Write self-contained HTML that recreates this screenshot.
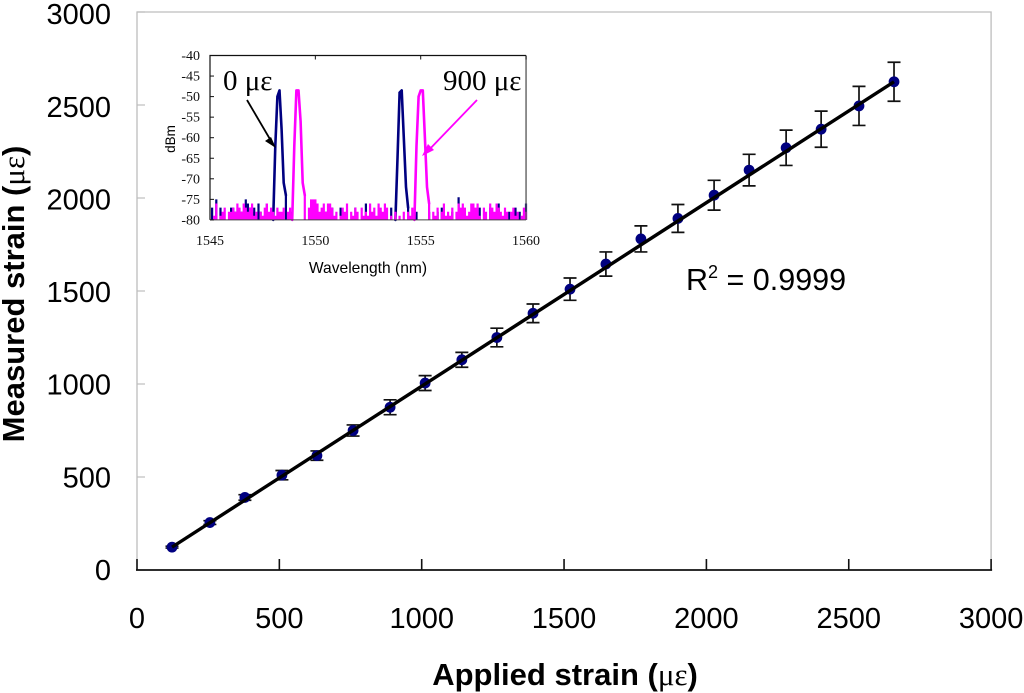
<!DOCTYPE html>
<html lang="en">
<head>
<meta charset="utf-8">
<title>Measured vs applied strain</title>
<style>
html,body{margin:0;padding:0;background:#fff;width:1024px;height:693px;overflow:hidden}
svg{display:block;font-family:"Liberation Sans",sans-serif}
</style>
</head>
<body>
<svg id="chart" xmlns="http://www.w3.org/2000/svg" width="1024" height="693" viewBox="0 0 1024 693">
  <rect x="0" y="0" width="1024" height="693" fill="#fff"/>
  <text transform="translate(24,294) rotate(-90)" text-anchor="middle" font-size="31" font-weight="bold" fill="#000">Measured strain (<tspan font-family="Liberation Serif" font-weight="normal">με</tspan>)</text>
  <text x="565" y="685" text-anchor="middle" font-size="31" font-weight="bold" fill="#000">Applied strain (<tspan font-family="Liberation Serif" font-weight="normal">με</tspan>)</text>
  <text x="686" y="290" font-size="30.5" fill="#000">R<tspan font-size="18" dy="-12">2</tspan><tspan dy="12"> = 0.9999</tspan></text>
  <text transform="translate(175,139) rotate(-90)" text-anchor="middle" font-size="13.5" fill="#000">dBm</text>
  <text x="368" y="273" text-anchor="middle" font-size="15.6" fill="#000">Wavelength (nm)</text>
  <text x="223" y="90" font-family="Liberation Serif" font-size="29" fill="#000">0 με</text>
  <text x="443" y="90" font-family="Liberation Serif" font-size="29" fill="#000">900 με</text>
  <g id="main-axes"></g>
  <g id="main-series"></g>
  <g id="inset"></g>
</svg>
<script>
// ---- main chart data ----
const appliedStrain = [123,256,379,509,632,759,889,1012,1141,1264,1391,1521,1647,1770,1900,2027,2150,2280,2403,2536,2659];
const measuredStrain = [123,255,390,510,615,750,875,1005,1130,1250,1380,1510,1645,1780,1890,2015,2150,2270,2370,2495,2625];
const strainError = [5,10,15,25,25,30,40,40,40,50,50,60,65,70,75,80,85,95,97,105,105];
const trendX = [123,2659];
const trendY = [123,2625];
const mainXTicks = [0,500,1000,1500,2000,2500,3000];
const mainYTicks = [0,500,1000,1500,2000,2500,3000];

// ---- inset data (dBm sampled every 0.1 nm from 1545 nm) ----
const spectrumStart = 1545;
const spectrumStep = 0.1;
const spectrum0 = [
-80,-77,-80,-75,-80,-77,-80,-80,-80,-80,
-77,-77,-78,-80,-79,-78,-80,-75,-76,-77,
-78,-77,-80,-76,-78,-80,-79,-76,-80,-80,
-80,-62,-50,-48.5,-58,-71,-74,-80,-80,-78,
-80,-80,-80,-80,-80,-80,-80,-80,-80,-78,
-80,-80,-80,-80,-80,-78,-80,-80,-77,-80,
-80,-80,-77,-80,-80,-80,-80,-80,-80,-77,
-80,-80,-80,-80,-76,-80,-80,-80,-80,-80,
-80,-78,-80,-80,-80,-80,-77,-80,-80,-65,
-49,-48.5,-60,-72,-77,-80,-80,-80,-78,-80,
-80,-80,-80,-80,-78,-80,-80,-80,-78,-80,
-77,-80,-80,-80,-80,-78,-80,-80,-74.5,-78,
-80,-80,-80,-79,-80,-80,-80,-80,-77,-80,
-80,-80,-80,-77,-80,-80,-80,-76,-80,-80,
-80,-80,-78,-80,-80,-77,-80,-78,-80,-80,-76
];
const spectrum900 = [
-80,-80,-79,-76,-80,-79,-78,-77,-80,-78,
-78,-77,-78,-76,-77,-78,-76,-77,-78,-77,
-76,-79,-78,-80,-78,-79,-77,-76,-78,-77,
-78,-79,-77,-78,-78,-77,-80,-78,-77,-80,
-62,-48.5,-48.5,-56,-71,-74,-80,-77,-75,-75,
-75,-76,-78,-77,-76,-78,-76,-76,-77,-79,
-78,-80,-79,-77,-78,-76,-80,-78,-79,-77,
-78,-80,-77,-79,-78,-79,-76,-78,-77,-79,
-76,-77,-78,-76,-77,-80,-79,-80,-78,-80,
-79,-80,-78,-80,-78,-79,-77,-80,-62,-50,
-48.5,-48.5,-60,-72,-76,-80,-78,-79,-77,-80,
-78,-76,-79,-78,-79,-77,-80,-78,-76,-77,
-76,-77,-79,-78,-76,-76,-77,-76,-79,-80,
-77,-78,-80,-76,-77,-78,-76,-77,-78,-79,
-77,-78,-80,-78,-77,-79,-78,-80,-79,-77,-78
];
const insetXTicks = [1545,1550,1555,1560];
const insetYTicks = [-40,-45,-50,-55,-60,-65,-70,-75,-80];

// ---- axis functions ----
const xMain = v => 137 + v * 0.2847;
const yMain = v => 570 - v * 0.186;
const yMainLabel = v => 570 - v * 0.1853;
const xInset = v => 210 + (v - 1545) * 21.07;
const yInset = v => 55.5 + (-40 - v) * 4.11;

const NS = 'http://www.w3.org/2000/svg';
function make(parent, tag, attrs, text) {
  const el = document.createElementNS(NS, tag);
  for (const k in attrs) el.setAttribute(k, attrs[k]);
  if (text !== undefined) el.textContent = text;
  parent.appendChild(el);
  return el;
}
let el;
const mainAxes = document.getElementById('main-axes');
const mainSeries = document.getElementById('main-series');
const inset = document.getElementById('inset');

// main plot frame
el = make(mainAxes, 'path', {d:`M${xMain(0)} ${yMain(0)}V${yMain(3000)}H${xMain(3000)}V${yMain(0)}`, fill:'none', stroke:'#bdbdbd', 'stroke-width':1.3});



mainYTicks.forEach(t => {
  el = make(mainAxes, 'line', {x1:xMain(0), x2:xMain(0)+8, y1:yMain(t), y2:yMain(t), stroke:'#bdbdbd', 'stroke-width':1.2});
  
  
  el = make(mainAxes, 'text', {x:111, y:yMainLabel(t)+10, 'text-anchor':'end', 'font-size':29, fill:'#000'}, t);
  
  
});
el = make(mainAxes, 'line', {x1:xMain(0)-1, x2:xMain(3000)+1, y1:yMain(0), y2:yMain(0), stroke:'#111', 'stroke-width':1.8});


mainXTicks.forEach(t => {
  el = make(mainAxes, 'line', {x1:xMain(t), x2:xMain(t), y1:yMain(0), y2:yMain(0)-11, stroke:'#111', 'stroke-width':1.6});
  
  
  el = make(mainAxes, 'text', {x:xMain(t), y:628, 'text-anchor':'middle', 'font-size':29, fill:'#000'}, t);
  
  
});

// error bars
appliedStrain.forEach((x, i) => {
  const px = xMain(x), top = yMain(measuredStrain[i] + strainError[i]), bot = yMain(measuredStrain[i] - strainError[i]);
  el = make(mainSeries, 'path', {d:`M${px-6.5} ${top}H${px+6.5}M${px} ${top}V${bot}M${px-6.5} ${bot}H${px+6.5}`, fill:'none', stroke:'#111', 'stroke-width':1.7});
  
  
});
// points
appliedStrain.forEach((x, i) => {
  el = make(mainSeries, 'circle', {cx:xMain(x), cy:yMain(measuredStrain[i]), r:5.4, fill:'#000080'});
  
  
});
// trend line
el = make(mainSeries, 'line', {x1:xMain(trendX[0]), y1:yMain(trendY[0]), x2:xMain(trendX[1]), y2:yMain(trendY[1]), stroke:'#000', 'stroke-width':3.4});



// inset traces: noise floor as solid columns, peaks as stroked outlines
function sampleX(i) {
  return xInset(spectrumStart + i * spectrumStep).toFixed(1);
}
function noisePath(values) {
  return values.map((v, i) => v <= -74 ? `M${sampleX(i)} ${yInset(-80).toFixed(1)}V${yInset(v).toFixed(1)}` : '').join('');
}
function peakPath(values) {
  let d = '';
  for (let i = 0; i < values.length - 1; i++) {
    if (Math.max(values[i], values[i + 1]) > -74) {
      d += `M${sampleX(i)} ${yInset(values[i]).toFixed(1)}L${sampleX(i + 1)} ${yInset(values[i + 1]).toFixed(1)}`;
    }
  }
  return d;
}
el = make(inset, 'path', {d:noisePath(spectrum0), fill:'none', stroke:'#000080', 'stroke-width':2.2});


el = make(inset, 'path', {d:peakPath(spectrum0), fill:'none', stroke:'#000080', 'stroke-width':2.6, 'stroke-linecap':'round'});


el = make(inset, 'path', {d:noisePath(spectrum900), fill:'none', stroke:'#ff00ff', 'stroke-width':2.2});


el = make(inset, 'path', {d:peakPath(spectrum900), fill:'none', stroke:'#ff00ff', 'stroke-width':2.6, 'stroke-linecap':'round'});



// inset axes
el = make(inset, 'path', {d:`M${xInset(1545)} ${yInset(-80)}V${yInset(-40)}H${xInset(1560)}`, fill:'none', stroke:'#111', 'stroke-width':1.2});


el = make(inset, 'line', {x1:xInset(1560), x2:xInset(1560), y1:yInset(-40), y2:yInset(-80), stroke:'#555', 'stroke-width':1.3});


el = make(inset, 'line', {x1:xInset(1545), x2:xInset(1560), y1:yInset(-80), y2:yInset(-80), stroke:'#444', 'stroke-width':1});


insetYTicks.forEach(t => {
  el = make(inset, 'line', {x1:xInset(1545), x2:xInset(1545)+4, y1:yInset(t), y2:yInset(t), stroke:'#111', 'stroke-width':1});
  
  
  el = make(inset, 'text', {x:200, y:yInset(t)+4.5, 'text-anchor':'end', 'font-family':'Liberation Serif', 'font-size':14, fill:'#111'}, t);
  
  
});
insetXTicks.forEach(t => {
  el = make(inset, 'line', {x1:xInset(t), x2:xInset(t), y1:yInset(-40), y2:yInset(-40)+4, stroke:'#111', 'stroke-width':1});
  
  
  el = make(inset, 'text', {x:xInset(t), y:245, 'text-anchor':'middle', 'font-family':'Liberation Serif', 'font-size':14, fill:'#111'}, t);
  
  
});

// annotation arrows
el = make(inset, 'path', {d:'M247 100L274 146', fill:'none', stroke:'#000', 'stroke-width':1.8});


el = make(inset, 'path', {d:'M276 148L265 141L271 137Z', fill:'#000'});


el = make(inset, 'path', {d:'M477 100L425 154', fill:'none', stroke:'#ff00ff', 'stroke-width':1.8});


el = make(inset, 'path', {d:'M422 156L428 144L434 150Z', fill:'#ff00ff'});


</script>
</body>
</html>
